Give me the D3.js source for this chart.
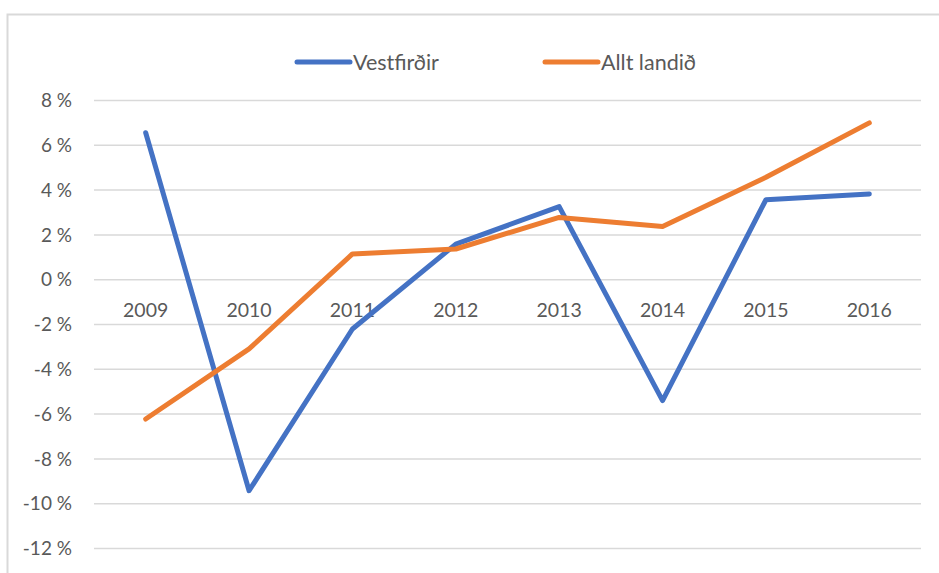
<!DOCTYPE html>
<html>
<head>
<meta charset="utf-8">
<script src="https://cdn.jsdelivr.net/npm/d3@7"></script>
<style>
  body { margin: 0; background: #fff; }
  text { font-family: Lato, "Open Sans", sans-serif; fill: #595959; }
</style>
</head>
<body>
<svg id="chart" width="939" height="573"></svg>
<script>
var years = ["2009", "2010", "2011", "2012", "2013", "2014", "2015", "2016"];
var vestfirdir = [6.56, -9.42, -2.2, 1.59, 3.26, -5.4, 3.57, 3.83];
var alltLandid = [-6.22, -3.09, 1.15, 1.37, 2.78, 2.38, 4.57, 7.0];
var yTicks = [8, 6, 4, 2, 0, -2, -4, -6, -8, -10, -12];
var seriesNames = ["Vestfirðir", "Allt landið"];
var colors = ["#4472C4", "#ED7D31"];

var svg = d3.select("#chart");

// outer chart border, runs off the page on the right and bottom
svg.append("rect")
  .attr("x", 7.5).attr("y", 14.5)
  .attr("width", 1000).attr("height", 1000)
  .attr("fill", "none")
  .attr("stroke", "#D9D9D9")
  .attr("stroke-width", 2);

var x = d3.scaleBand().domain(years).range([94, 921]);
var y = d3.scaleLinear().domain([-12, 8]).range([548.5, 100.5]);

// gridlines
svg.append("g")
  .selectAll("line")
  .data(yTicks)
  .enter().append("line")
  .attr("x1", 94).attr("x2", 921)
  .attr("y1", function(d) { return y(d); })
  .attr("y2", function(d) { return y(d); })
  .attr("stroke", "#D9D9D9")
  .attr("stroke-width", 1.5);

// y labels
svg.append("g")
  .selectAll("text")
  .data(yTicks)
  .enter().append("text")
  .attr("x", 72)
  .attr("y", function(d) { return y(d); })
  .attr("dy", "0.35em")
  .attr("text-anchor", "end")
  .style("font-size", "19px")
  .text(function(d) { return d + " %"; });

// x labels sit just under the zero line
svg.append("g")
  .selectAll("text")
  .data(years)
  .enter().append("text")
  .attr("x", function(d) { return x(d) + x.bandwidth() / 2; })
  .attr("y", y(0) + 37)
  .attr("text-anchor", "middle")
  .style("font-size", "19.5px")
  .text(function(d) { return d; });

var line = d3.line()
  .x(function(d, i) { return x(years[i]) + x.bandwidth() / 2; })
  .y(function(d) { return y(d); });

[vestfirdir, alltLandid].forEach(function(values, i) {
  svg.append("path")
    .datum(values)
    .attr("d", line)
    .attr("fill", "none")
    .attr("stroke", colors[i])
    .attr("stroke-width", 5)
    .attr("stroke-linecap", "round")
    .attr("stroke-linejoin", "round");
});

// legend
var legendX = [297, 545];
seriesNames.forEach(function(name, i) {
  var g = svg.append("g").attr("transform", "translate(" + legendX[i] + ",62)");
  g.append("line")
    .attr("x1", 0).attr("x2", 53)
    .attr("stroke", colors[i])
    .attr("stroke-width", 5)
    .attr("stroke-linecap", "round");
  g.append("text")
    .attr("x", 56)
    .attr("dy", "0.35em")
    .style("font-size", "21.5px")
    .text(name);
});
</script>
</body>
</html>
